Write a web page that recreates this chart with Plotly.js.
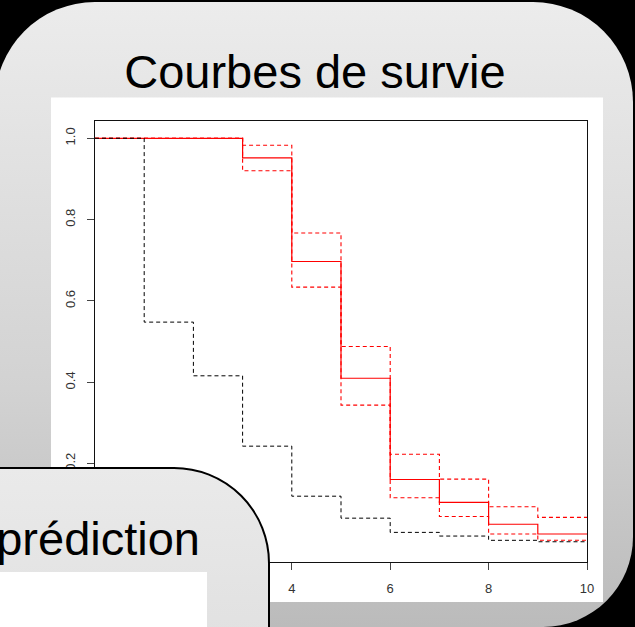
<!DOCTYPE html>
<html>
<head>
<meta charset="utf-8">
<script src="https://cdn.plot.ly/plotly-3.0.1.min.js"></script>
<style>
  html, body { margin: 0; padding: 0; background: #000; width: 635px; height: 627px; overflow: hidden; }
  #slide {
    position: absolute; left: -5px; top: 2px; width: 638px; height: 625px;
    border-radius: 100px 100px 90px 100px;
    background: linear-gradient(to bottom, #ececec 0%, #d2d2d2 62%, #bbbbbb 100%);
    z-index: 0;
  }
  #chart { position: absolute; left: 0; top: 0; width: 635px; height: 627px; z-index: 1; }
  #predbox {
    position: absolute; left: -20px; top: 467px; width: 290px; height: 300px;
    box-sizing: border-box; border: 2px solid #000;
    border-top-right-radius: 96px;
    background: linear-gradient(to bottom, #eaeaea 0%, #dadada 100%);
    z-index: 2;
  }
  #predtext {
    position: absolute; right: 435px; top: 515px; line-height: 47px;
    font-family: "Liberation Sans", Arial, sans-serif; font-size: 47px; color: #000;
    white-space: nowrap; z-index: 3;
  }
  #predwhite {
    position: absolute; left: -20px; top: 572px; width: 227px; height: 80px;
    background: #fff; z-index: 3;
  }
</style>
</head>
<body>
<div id="slide"></div>
<div id="chart"></div>
<div id="predbox"></div>
<div id="predtext">prédiction</div>
<div id="predwhite"></div>
<script>
// ---- data ----
const blackTimes = [0, 1, 2, 3, 4, 5, 6, 7, 8, 9, 10];
const blackSurv  = [1.0, 0.548, 0.416, 0.243, 0.120, 0.066, 0.031, 0.022, 0.0115, 0.008, 0.008];

const redTimes   = [0, 3, 4, 5, 6, 7, 8, 9, 10];
const redSurv    = [1.0, 0.952, 0.697, 0.410, 0.161, 0.105, 0.051, 0.027, 0.027];
const redUpper   = [1.0, 0.983, 0.767, 0.488, 0.223, 0.162, 0.094, 0.068, 0.068];
const redLower   = [1.0, 0.920, 0.634, 0.344, 0.116, 0.070, 0.027, 0.0115, 0.0115];

const xTicks = [0, 2, 4, 6, 8, 10];
const yTicks = [0.0, 0.2, 0.4, 0.6, 0.8, 1.0];
const chartTitle = "Courbes de survie";

const dashPat = "4px,3px";
const traces = [
  { x: redTimes, y: redSurv, mode: "lines", line: { shape: "hv", color: "#ff0000", width: 1.2 } },
  { x: redTimes, y: redUpper, mode: "lines", line: { shape: "hv", color: "#ff0000", width: 1.1, dash: dashPat } },
  { x: redTimes, y: redLower, mode: "lines", line: { shape: "hv", color: "#ff0000", width: 1.1, dash: dashPat } },
  { x: blackTimes, y: blackSurv, mode: "lines", line: { shape: "hv", color: "#000000", width: 1, dash: dashPat } }
];

const tickFont = { family: "Liberation Sans, Arial, sans-serif", size: 13, color: "#333" };

const layout = {
  width: 635, height: 627,
  margin: { l: 95, r: 48, t: 121, b: 65, pad: 0 },
  paper_bgcolor: "rgba(0,0,0,0)",
  plot_bgcolor: "#ffffff",
  showlegend: false,
  title: {
    text: chartTitle,
    font: { family: "Liberation Sans, Arial, sans-serif", size: 47, color: "#000" },
    x: 0.496, xref: "container", xanchor: "center",
    y: 0.886, yref: "container", yanchor: "middle"
  },
  xaxis: {
    range: [0, 10], tickvals: xTicks, ticktext: xTicks.map(String),
    ticks: "outside", ticklen: 7, tickcolor: "#444", tickwidth: 1,
    showline: true, linecolor: "#111", linewidth: 1, mirror: true,
    showgrid: false, zeroline: false, tickfont: tickFont,
    ticklabelstandoff: 7
  },
  yaxis: {
    range: [-0.0418, 1.0425], tickvals: yTicks, ticktext: yTicks.map(v => v.toFixed(1)),
    tickangle: -90,
    ticks: "outside", ticklen: 7, tickcolor: "#444", tickwidth: 1,
    showline: true, linecolor: "#111", linewidth: 1, mirror: true,
    showgrid: false, zeroline: false, tickfont: tickFont,
    ticklabelstandoff: 7
  },
  shapes: [
    { type: "rect", xref: "paper", yref: "paper", layer: "below",
      x0: -0.0894, x1: 1.0325, y0: -0.0907, y1: 1.0533,
      fillcolor: "#ffffff", line: { width: 0 } }
  ]
};

Plotly.newPlot("chart", traces, layout, { staticPlot: true, displayModeBar: false });
</script>
</body>
</html>
